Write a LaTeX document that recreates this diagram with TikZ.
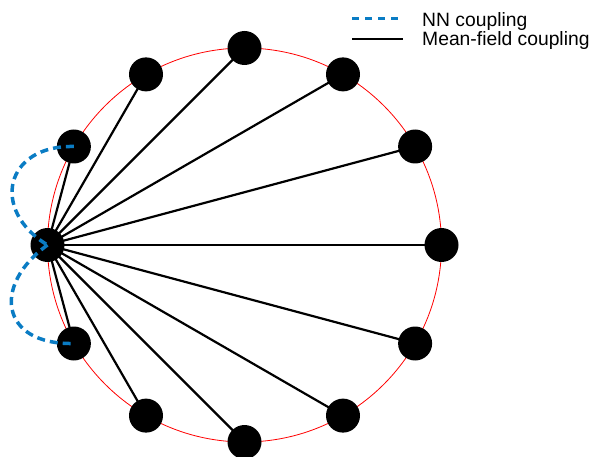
\documentclass[tikz,border=0pt]{standalone}
\usepackage{fontspec}
\setmainfont{Liberation Sans}
\usetikzlibrary{calc}
\definecolor{nnblue}{HTML}{0A7CC4}
\tikzset{
  spin/.style={circle,fill=black,minimum size=34pt,inner sep=0pt},
  mf/.style={line width=2.2pt,black},
  nn/.style={line width=3.5pt,nnblue,dash pattern=on 8pt off 5pt},
  legtext/.style={anchor=base west,font=\fontsize{19.3}{22}\selectfont,inner sep=0pt},
}
\begin{document}
\begin{tikzpicture}[x=1pt,y=1pt]
\useasboundingbox (0,0) rectangle (595,456);
\coordinate (C) at (244.5,211);
\draw[red,line width=0.8pt] (C) circle (197);
\foreach \a in {0,30,...,330} {
  \coordinate (p\a) at ($(C)+(\a:197)$);
}
\foreach \a in {0,30,...,150,210,240,...,330} {
  \draw[mf] (p180) -- (p\a);
}
\foreach \a in {0,30,...,330} {
  \node[spin] (n\a) at (p\a) {};
}
\draw[nn] (n150.center) .. controls (5,311) and (-10,246) .. (n180.center);
\draw[nn] (n180.center) .. controls (-8,171) and (0,111) .. (n210.center);
% legend
\coordinate (l1a) at (352,437.7);
\coordinate (l1b) at (403,437.7);
\coordinate (l2a) at (352,417);
\coordinate (l2b) at (403,417);
\draw[nn,line width=3pt,dash pattern=on 7pt off 6pt] (l1a) -- (l1b);
\draw[line width=1.8pt] (l2a) -- (l2b);
\node[legtext] (t1) at (422,429) {NN coupling};
\node[legtext] (t2) at (422,410) {Mean-field coupling};
\end{tikzpicture}
\end{document}
